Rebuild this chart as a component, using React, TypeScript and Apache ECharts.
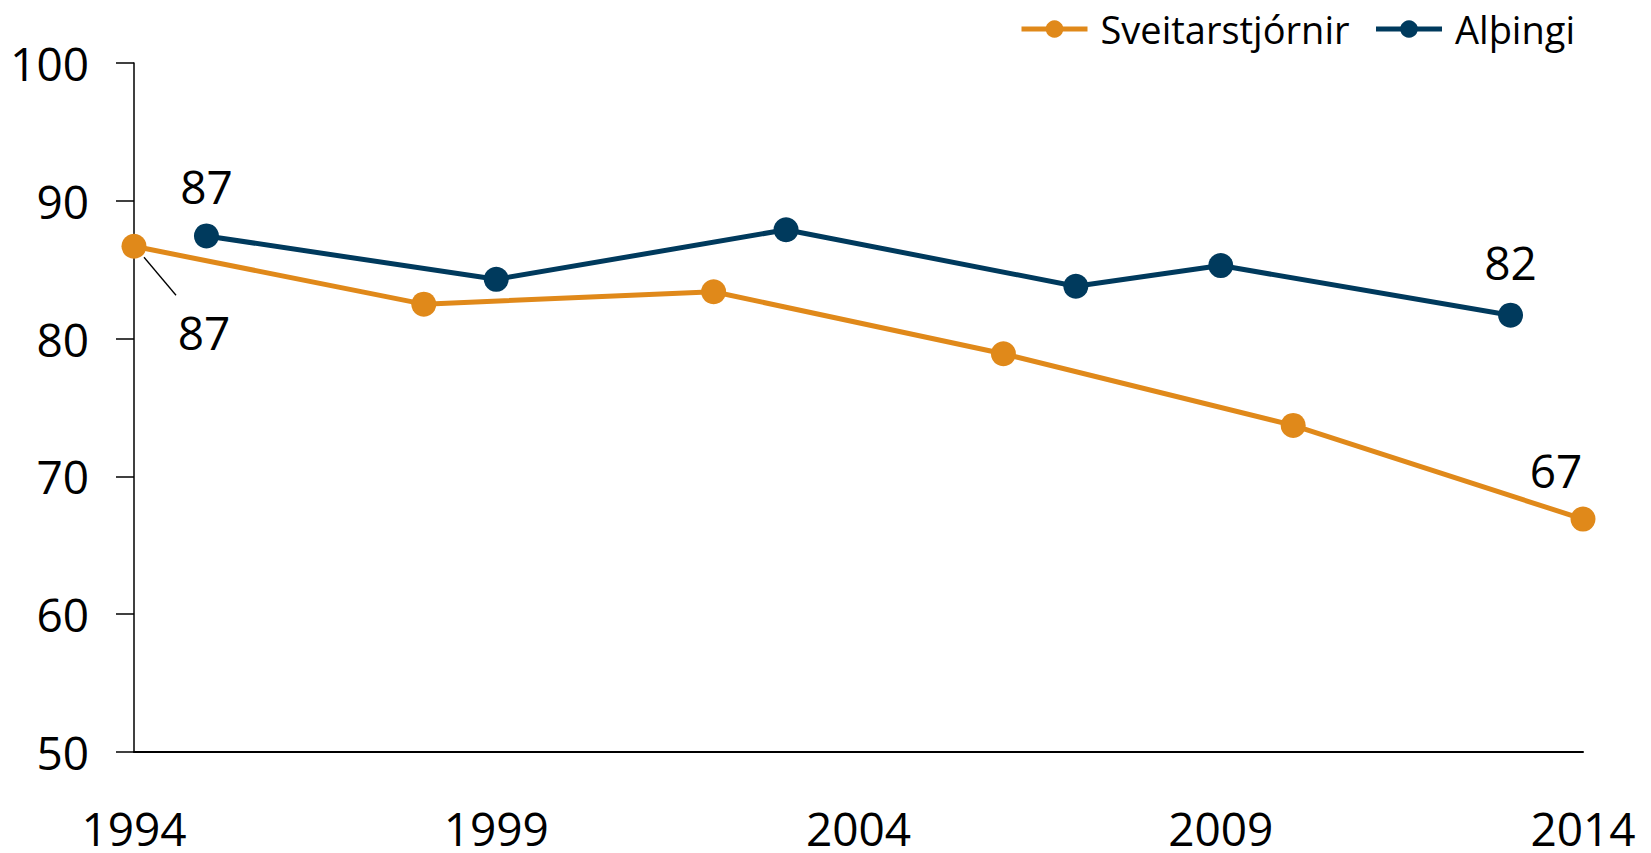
import React, { useEffect, useRef } from "react";
import * as echarts from "echarts";

const sveitarYears = [1994, 1998, 2002, 2006, 2010, 2014];
const sveitarValues = [86.7, 82.5, 83.4, 78.9, 73.7, 66.9];
const althingiYears = [1995, 1999, 2003, 2007, 2009, 2013];
const althingiValues = [87.45, 84.3, 87.9, 83.8, 85.3, 81.7];
const seriesNames = ["Sveitarstjórnir", "Alþingi"];
const colors = ["#E0891A", "#003A5D"];

const FONT = "Open Sans";

export default function App() {
  const ref = useRef<HTMLDivElement>(null);
  useEffect(() => {
    if (!ref.current) return;
    const chart = echarts.init(ref.current, null, { renderer: "svg" });
    const labelStyle = { fontFamily: FONT, fontSize: 46, color: "#000" };
    const fmt = (p: any) => Math.round(p.value[1]).toString();
    const sData = sveitarYears.map((y, i) => {
      const item: any = { value: [y, sveitarValues[i]] };
      if (i === 0) item.label = { show: true, position: "inside", offset: [70, 86], formatter: fmt, ...labelStyle };
      if (i === sveitarYears.length - 1) item.label = { show: true, position: "inside", offset: [-27, -49], formatter: fmt, ...labelStyle };
      return item;
    });
    const aData = althingiYears.map((y, i) => {
      const item: any = { value: [y, althingiValues[i]] };
      if (i === 0) item.label = { show: true, position: "inside", offset: [0, -50], formatter: fmt, ...labelStyle };
      if (i === althingiYears.length - 1) item.label = { show: true, position: "inside", offset: [0, -53], formatter: fmt, ...labelStyle };
      return item;
    });
    chart.setOption({
      animation: false,
      backgroundColor: "#fff",
      textStyle: { fontFamily: FONT },
      grid: { left: 134, right: 68, top: 63, bottom: 101, containLabel: false },
      legend: {
        left: 1019,
        top: 8,
        padding: 0,
        itemWidth: 66,
        itemHeight: 22,
        itemGap: 24,
        lineStyle: { width: 5 },
        textStyle: { fontFamily: FONT, fontSize: 38, color: "#000", lineHeight: 42, padding: [0, 0, 0, 8] },
        data: seriesNames,
      },
      xAxis: {
        type: "value",
        min: 1994,
        max: 2014,
        interval: 5,
        axisLine: { show: true, onZero: false, lineStyle: { color: "#000", width: 2 } },
        axisTick: { show: false },
        splitLine: { show: false },
        axisLabel: { margin: 57, fontFamily: FONT, fontSize: 46, lineHeight: 38, color: "#000", formatter: (v: number) => String(v) },
      },
      yAxis: {
        type: "value",
        min: 50,
        max: 100,
        interval: 10,
        axisLine: { show: true, lineStyle: { color: "#000", width: 1.5 } },
        axisTick: { show: true, length: 18, lineStyle: { color: "#000", width: 1.5 } },
        splitLine: { show: false },
        axisLabel: { margin: 45, fontFamily: FONT, fontSize: 46, color: "#000" },
      },
      series: [
        {
          name: seriesNames[0],
          type: "line",
          data: sData,
          symbol: "circle",
          symbolSize: 25,
          lineStyle: { color: colors[0], width: 5 },
          itemStyle: { color: colors[0] },
          z: 3,
        },
        {
          name: seriesNames[1],
          type: "line",
          data: aData,
          symbol: "circle",
          symbolSize: 25,
          lineStyle: { color: colors[1], width: 5 },
          itemStyle: { color: colors[1] },
          z: 2,
        },
      ],
    });
    const p = chart.convertToPixel({ seriesIndex: 0 }, [sveitarYears[0], sveitarValues[0]]) as number[];
    chart.setOption({
      graphic: [
        {
          type: "line",
          shape: { x1: p[0] + 10, y1: p[1] + 11, x2: p[0] + 42, y2: p[1] + 49 },
          style: { stroke: "#000", lineWidth: 1.3 },
          z: 10,
        },
      ],
    });
    return () => chart.dispose();
  }, []);
  return <div ref={ref} style={{ position: "fixed", left: 0, top: 0, width: 1651, height: 853 }} />;
}
